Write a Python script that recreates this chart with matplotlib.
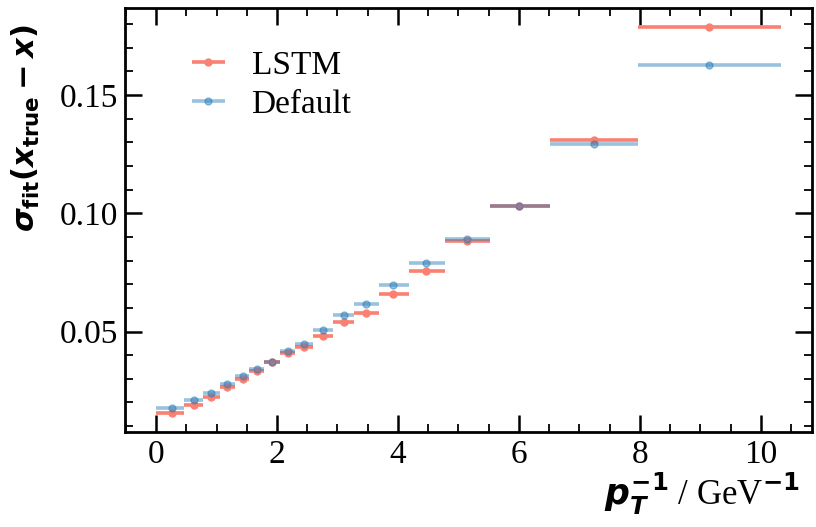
import numpy as np
import matplotlib
matplotlib.use("Agg")
from matplotlib import pyplot as plt
from matplotlib.ticker import MultipleLocator, FormatStrFormatter

# bin edges in 1/pT (GeV^-1)
edges = [0.0, 0.47, 0.78, 1.05, 1.30, 1.54, 1.79, 2.05, 2.30, 2.60,
         2.92, 3.28, 3.68, 4.18, 4.77, 5.52, 6.52, 7.97, 10.33]
centers = [0.26, 0.63, 0.91, 1.18, 1.43, 1.67, 1.92, 2.18, 2.45, 2.76,
           3.10, 3.48, 3.92, 4.47, 5.14, 6.01, 7.25, 9.15]

lstm = [0.0156, 0.0189, 0.0222, 0.0266, 0.0300, 0.0332, 0.0370, 0.0411,
        0.0433, 0.0482, 0.0539, 0.0579, 0.0660, 0.0758, 0.0883, 0.1031,
        0.1309, 0.1787]
default = [0.0178, 0.0209, 0.0242, 0.0280, 0.0311, 0.0342, 0.0373, 0.0419,
           0.0448, 0.0508, 0.0568, 0.0616, 0.0695, 0.0789, 0.0893, 0.1031,
           0.1292, 0.1628]

plt.rcParams['font.family'] = ['Liberation Serif', 'DejaVu Serif']
plt.rcParams['mathtext.fontset'] = 'custom'
plt.rcParams['mathtext.rm'] = 'DejaVu Sans:bold'
plt.rcParams['mathtext.it'] = 'DejaVu Sans:italic:bold'
plt.rcParams['mathtext.bf'] = 'DejaVu Sans:bold'


def x_errors(edges, centers):
    lo = [c - e for c, e in zip(centers, edges[:-1])]
    hi = [e - c for c, e in zip(centers, edges[1:])]
    return [lo, hi]


fig = plt.figure(figsize=(8.16, 5.27), dpi=100)
ax = fig.add_axes([0.153, 0.180, 0.842, 0.805])

xerr = x_errors(edges, centers)
ax.errorbar(centers, lstm, xerr=xerr, fmt='o', color='salmon', ms=5,
            elinewidth=2.6, capsize=0, label='LSTM')
ax.errorbar(centers, default, xerr=xerr, fmt='o', color='tab:blue',
            alpha=0.45, ms=5, elinewidth=2.6, capsize=0, label='Default')

ax.set_xlabel(r'$p_T^{-1}$ / GeV$^{-1}$', fontsize=25, loc='right')
ax.xaxis.set_label_coords(0.983, -0.09)
ax.xaxis.label.set_va('top')
ax.set_ylabel(r'$\sigma_{\mathrm{fit}}(x_{\mathrm{true}} - x)$', fontsize=22)
ax.yaxis.set_label_coords(-0.12, 0.96)
ax.yaxis.label.set_ha('right')

ax.xaxis.set_major_locator(MultipleLocator(2))
ax.xaxis.set_minor_locator(MultipleLocator(0.5))
ax.yaxis.set_major_locator(MultipleLocator(0.05))
ax.yaxis.set_minor_locator(MultipleLocator(0.01))
ax.yaxis.set_major_formatter(FormatStrFormatter('%.2f'))

ax.tick_params(which='both', direction='in', top=True, right=True,
               labelsize=24)
ax.tick_params(which='major', length=12, width=1.8, pad=5)
ax.tick_params(which='minor', length=6, width=1.3)
for s in ax.spines.values():
    s.set_linewidth(2.0)

ax.legend(loc='upper left', bbox_to_anchor=(0.051, 0.97), frameon=False,
          fontsize=24, handlelength=1.1, handletextpad=0.75,
          labelspacing=0.25)

fig.savefig('out.png', dpi=100)
